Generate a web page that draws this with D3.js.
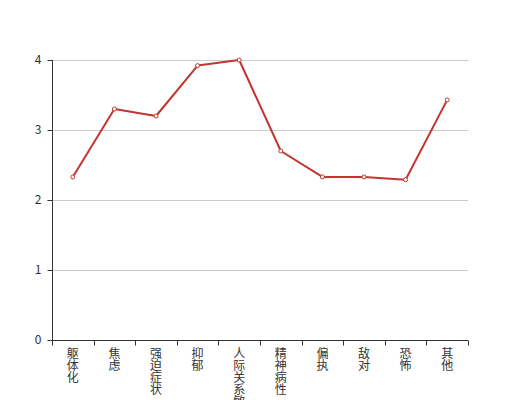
<!DOCTYPE html>
<html><head><meta charset="utf-8">
<script src="https://cdn.jsdelivr.net/npm/d3@7"></script>
<style>body{margin:0;background:#fff}svg{display:block}text{font-family:"Noto Sans CJK SC",sans-serif}</style>
</head><body><svg id="c" width="520" height="400"></svg>
<script>
const categories = ["躯体化","焦虑","强迫症状","抑郁","人际关系敏感","精神病性","偏执","敌对","恐怖","其他"];
const values = [2.33, 3.3, 3.2, 3.92, 4.0, 2.7, 2.33, 2.33, 2.29, 3.43];
const yTicks = [0, 1, 2, 3, 4];

const svg = d3.select("#c");
const x = d3.scaleBand().domain(categories).range([52, 468]);
const y = d3.scaleLinear().domain([0, 4]).range([340, 60]);

// grid
svg.append("g").selectAll("line").data(yTicks.filter(d => d > 0)).join("line")
  .attr("x1", 52).attr("x2", 468)
  .attr("y1", d => y(d) + 0.5).attr("y2", d => y(d) + 0.5)
  .attr("stroke", "#ccc").attr("stroke-width", 1);

// y axis
const ya = svg.append("g").attr("transform", "translate(52.5,0)")
  .call(d3.axisLeft(y).tickValues(yTicks).tickSize(5).tickPadding(6).tickFormat(d3.format("d")));
ya.select(".domain").attr("stroke", "#333").attr("d", `M0,${y(0)}V${y(4)}`);
ya.selectAll(".tick line").attr("stroke", "#333");
ya.selectAll(".tick text").attr("fill", "#333").attr("font-size", 12);

// x axis
const xa = svg.append("g").attr("transform", `translate(0,${y(0) + 0.5})`);
xa.append("line").attr("x1", 52).attr("x2", 468).attr("stroke", "#333");
const bounds = categories.map(c => x(c)).concat([x.range()[1]]);
xa.selectAll("line.t").data(bounds).join("line").attr("class", "t")
  .attr("x1", d => Math.round(d) + 0.5).attr("x2", d => Math.round(d) + 0.5)
  .attr("y1", 0).attr("y2", 5).attr("stroke", "#333");
const lbl = xa.selectAll("text").data(categories).join("text")
  .attr("fill", "#333").attr("font-size", 12).attr("text-anchor", "middle");
lbl.each(function(d) {
  const t = d3.select(this);
  [...d].forEach((ch, i) => {
    t.append("tspan").attr("x", x(d) + x.bandwidth() / 2).attr("y", 17 + i * 12).text(ch);
  });
});

// line
const line = d3.line().x((d, i) => x(categories[i]) + x.bandwidth() / 2).y(d => y(d));
svg.append("path").datum(values).attr("d", line)
  .attr("fill", "none").attr("stroke", "#c23531").attr("stroke-width", 2).attr("stroke-linejoin", "round");
svg.append("g").selectAll("circle").data(values).join("circle")
  .attr("cx", (d, i) => x(categories[i]) + x.bandwidth() / 2).attr("cy", d => y(d))
  .attr("r", 2).attr("fill", "#fff").attr("stroke", "#c23531").attr("stroke-width", 1);
</script></body></html>
